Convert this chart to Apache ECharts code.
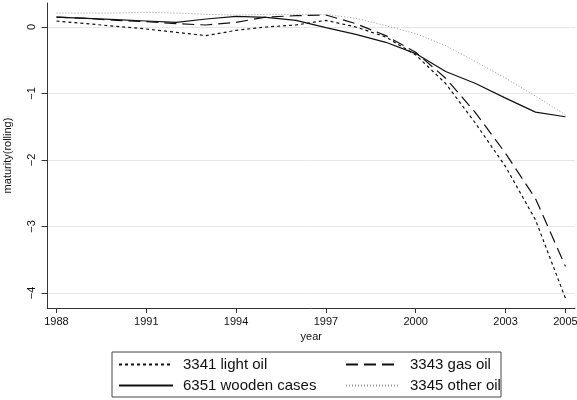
<!DOCTYPE html>
<html>
<head>
<meta charset="utf-8">
<script src="https://cdn.jsdelivr.net/npm/echarts@6/dist/echarts.min.js"></script>
<style>
html,body{margin:0;padding:0;background:#fff;}
#main{width:577px;height:400px;}
</style>
</head>
<body>
<div id="main"></div>
<script>
var years = [1988,1989,1990,1991,1992,1993,1994,1995,1996,1997,1998,1999,2000,2001,2002,2003,2004,2005];
var lightOil = [0.09,0.05,0.01,-0.03,-0.08,-0.13,-0.05,0.0,0.03,0.10,0.0,-0.15,-0.42,-0.85,-1.45,-2.10,-2.90,-4.08];
var gasOil = [0.15,0.13,0.10,0.08,0.05,0.03,0.07,0.15,0.17,0.18,0.05,-0.13,-0.38,-0.77,-1.29,-1.90,-2.58,-3.60];
var woodenCases = [0.15,0.13,0.11,0.09,0.07,0.12,0.16,0.145,0.10,-0.01,-0.11,-0.23,-0.40,-0.67,-0.85,-1.07,-1.28,-1.35];
var otherOil = [0.21,0.21,0.21,0.22,0.21,0.19,0.18,0.19,0.19,0.19,0.13,0.02,-0.10,-0.28,-0.52,-0.77,-1.04,-1.32];
var xTicks = [1988,1991,1994,1997,2000,2003,2005];
var yTicks = [-4,-3,-2,-1,0];
var names = ['3341 light oil','3343 gas oil','6351 wooden cases','3345 other oil'];

function pairs(vals){ return years.map(function(y,i){ return [y, vals[i]]; }); }
var FONT = '"Liberation Sans", Arial, Helvetica, sans-serif';

var legendBase = {orient: 'vertical', top: 357, padding: 0,
  itemWidth: 54, itemHeight: 16, itemGap: 6,
  itemStyle: {opacity: 0, borderWidth: 0},
  textStyle: {fontSize: 15, color: '#111', fontFamily: FONT, padding: [0,0,0,5]}};

var chart = echarts.init(document.getElementById('main'), null, {renderer:'canvas'});
chart.setOption({
  animation: false,
  backgroundColor: '#ffffff',
  textStyle: {fontFamily: FONT},
  grid: {left: 47.5, right: 2, top: 3, bottom: 92, containLabel: false, outerBoundsMode: 'none'},
  xAxis: {
    type: 'value', min: 1987.7, max: 2005.32,
    name: 'year', nameLocation: 'middle', nameGap: 22,
    nameTextStyle: {fontSize: 11, color: '#111', fontFamily: FONT},
    axisLine: {show: true, onZero: false, lineStyle: {color: '#333', width: 1}},
    axisTick: {show: true, length: 5, customValues: xTicks, lineStyle: {color: '#333'}},
    axisLabel: {customValues: xTicks, fontSize: 11, color: '#111', margin: 8, fontFamily: FONT,
      formatter: function(v){ return String(v); }},
    splitLine: {show: false}
  },
  yAxis: {
    type: 'value', min: -4.226, max: 0.361,
    name: 'maturity(rolling)', nameLocation: 'middle', nameGap: 34,
    nameTextStyle: {fontSize: 11, color: '#111', fontFamily: FONT},
    axisLine: {show: true, onZero: false, lineStyle: {color: '#333', width: 1}},
    axisTick: {show: true, length: 6, customValues: yTicks, lineStyle: {color: '#333'}},
    axisLabel: {customValues: yTicks, fontSize: 11, color: '#111', margin: 10, rotate: 90, fontFamily: FONT,
      formatter: function(v){ return v < 0 ? '\u2212' + Math.abs(v) : String(v); }},
    splitLine: {show: true, lineStyle: {color: '#e6e6e6', width: 1}}
  },
  legend: [
    Object.assign({}, legendBase, {data: [names[0], names[2]], left: 118}),
    Object.assign({}, legendBase, {data: [names[1], names[3]], left: 345})
  ],
  graphic: [
    {type: 'rect', shape: {x: 112, y: 352, width: 389, height: 45},
     style: {fill: 'none', stroke: '#444', lineWidth: 1}, z: -1}
  ],
  series: [
    {name: names[0], type: 'line', data: pairs(lightOil), symbol: 'none', showSymbol: false,
     lineStyle: {color: '#111', width: 1.2, type: [3,3]}, itemStyle: {color: '#111'}},
    {name: names[1], type: 'line', data: pairs(gasOil), symbol: 'none', showSymbol: false,
     lineStyle: {color: '#111', width: 1.2, type: [12,6]}, itemStyle: {color: '#111'}},
    {name: names[2], type: 'line', data: pairs(woodenCases), symbol: 'none', showSymbol: false,
     lineStyle: {color: '#111', width: 1.2, type: 'solid'}, itemStyle: {color: '#111'}},
    {name: names[3], type: 'line', data: pairs(otherOil), symbol: 'none', showSymbol: false,
     lineStyle: {color: '#999', width: 1, type: [1,2]}, itemStyle: {color: '#999'}}
  ]
});
</script>
</body>
</html>
